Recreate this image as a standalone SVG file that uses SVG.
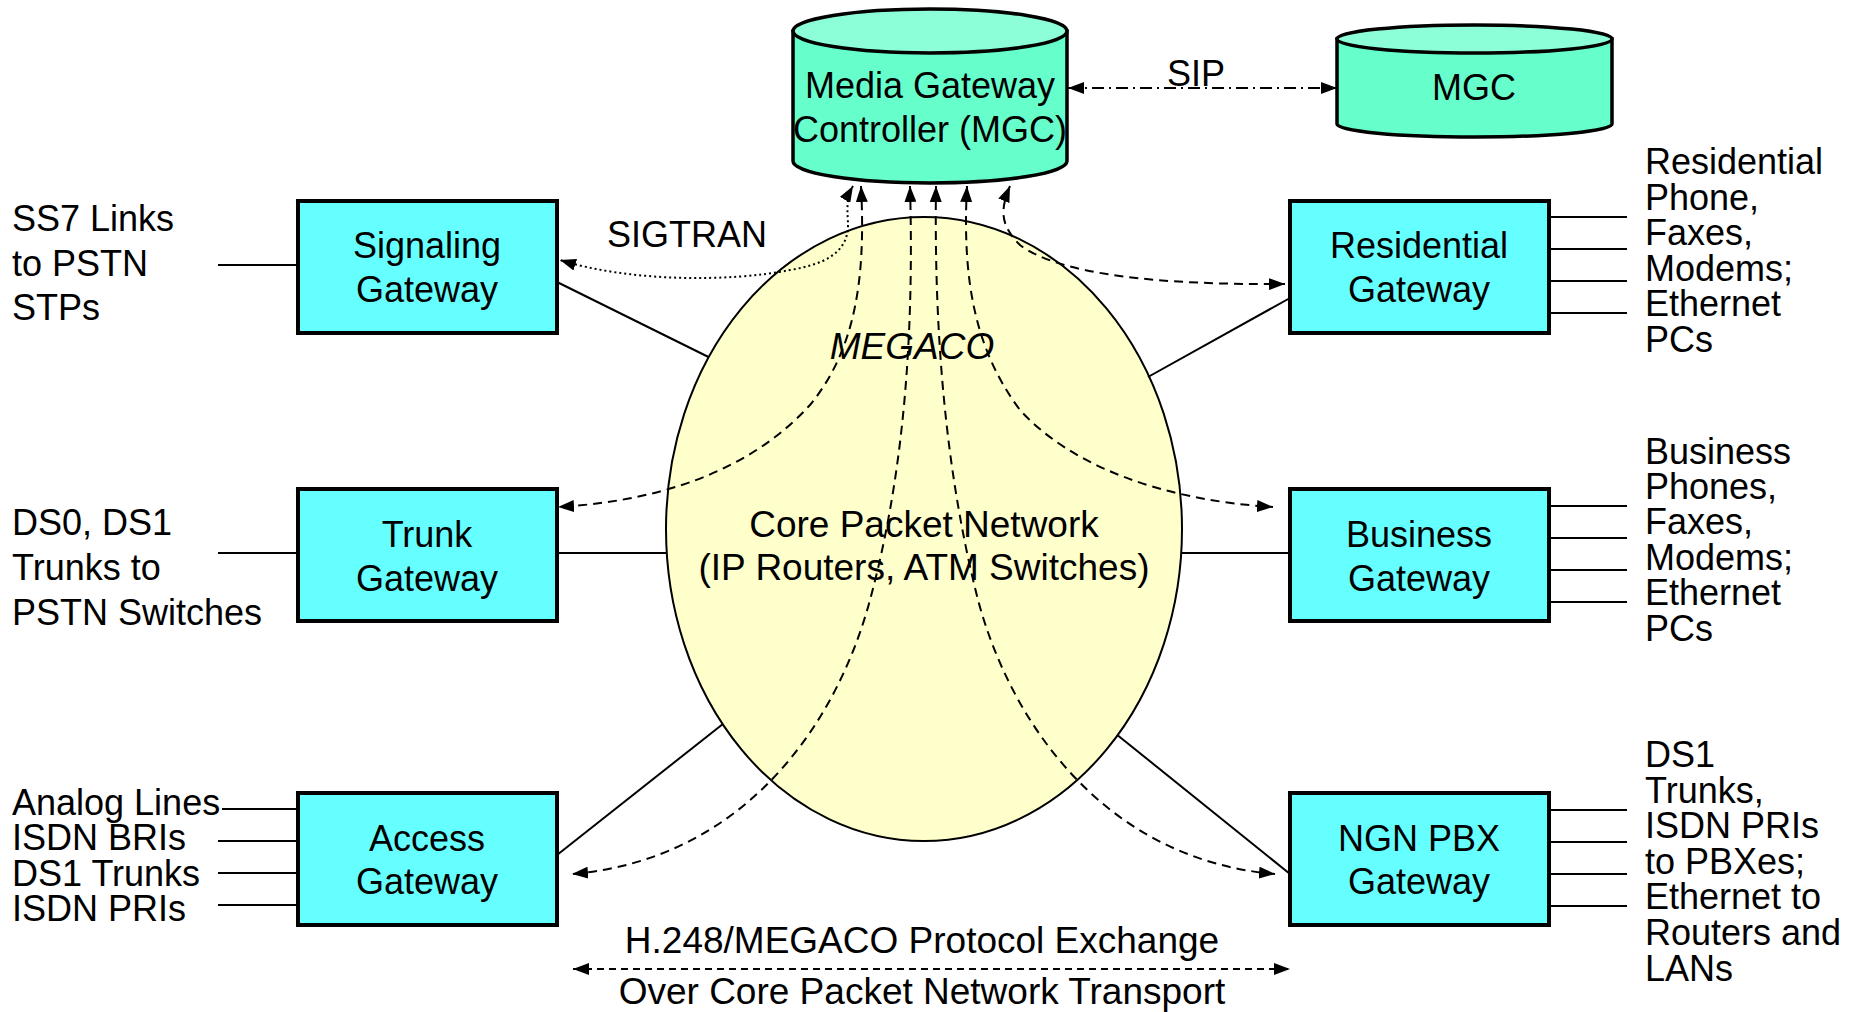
<svg xmlns="http://www.w3.org/2000/svg" width="1857" height="1012" viewBox="0 0 1857 1012">
<defs>
<style>
text{font-family:"Liberation Sans",Arial,sans-serif;font-size:36px;fill:#000}
.c{text-anchor:middle}
.box{fill:#66FFFF;stroke:#000;stroke-width:4}
.cyl{fill:#66FFCC;stroke:#000;stroke-width:3.5}
.cyltop{fill:#8CFFD8;stroke:#000;stroke-width:3.5}
.ln{stroke:#000;stroke-width:2;fill:none}
.dash{stroke:#000;stroke-width:2;fill:none;stroke-dasharray:9 6;marker-start:url(#ah);marker-end:url(#ah)}
.dot{stroke:#000;stroke-width:2;fill:none;stroke-dasharray:2 3;marker-start:url(#ah);marker-end:url(#ah)}
.sip{stroke:#000;stroke-width:2;fill:none;stroke-dasharray:12 5 2 5;marker-start:url(#ah);marker-end:url(#ah)}
.bot{stroke:#000;stroke-width:2;fill:none;stroke-dasharray:7 5;marker-start:url(#ah);marker-end:url(#ah)}
</style>
<marker id="ah" viewBox="0 0 16 12" refX="16" refY="6" markerWidth="16" markerHeight="12" markerUnits="userSpaceOnUse" orient="auto-start-reverse">
<path d="M0,0 L16,6 L0,12 z" fill="#000"/>
</marker>
</defs>
<rect width="1857" height="1012" fill="#fff"/>

<g id="core-network">
<ellipse cx="924" cy="529" rx="258" ry="312" fill="#FFFFCC" stroke="#000" stroke-width="2"/>
<text x="912" y="359" class="c" font-style="italic" style="font-size:37px">MEGACO</text>
<text x="924" y="537" class="c" style="font-size:37px">Core Packet Network</text>
<text x="924" y="580" class="c" style="font-size:37px">(IP Routers, ATM Switches)</text>
</g>

<g id="connectors">
<line class="ln" x1="218" y1="265" x2="298" y2="265"/>
<line class="ln" x1="557" y1="282" x2="708.5" y2="357"/>
<line class="ln" x1="218" y1="553" x2="298" y2="553"/>
<line class="ln" x1="557" y1="553" x2="667" y2="553"/>
<line class="ln" x1="222" y1="809" x2="298" y2="809"/>
<line class="ln" x1="218" y1="841" x2="298" y2="841"/>
<line class="ln" x1="218" y1="873" x2="298" y2="873"/>
<line class="ln" x1="218" y1="905" x2="298" y2="905"/>
<line class="ln" x1="557" y1="855" x2="722.6" y2="724.2"/>
<line class="ln" x1="1290" y1="298" x2="1148" y2="377"/>
<line class="ln" x1="1181" y1="553" x2="1290" y2="553"/>
<line class="ln" x1="1290" y1="874" x2="1117.6" y2="735.2"/>
<line class="ln" x1="1549" y1="217" x2="1627" y2="217"/>
<line class="ln" x1="1549" y1="249" x2="1627" y2="249"/>
<line class="ln" x1="1549" y1="281" x2="1627" y2="281"/>
<line class="ln" x1="1549" y1="313" x2="1627" y2="313"/>
<line class="ln" x1="1549" y1="506" x2="1627" y2="506"/>
<line class="ln" x1="1549" y1="538" x2="1627" y2="538"/>
<line class="ln" x1="1549" y1="570" x2="1627" y2="570"/>
<line class="ln" x1="1549" y1="602" x2="1627" y2="602"/>
<line class="ln" x1="1549" y1="810" x2="1627" y2="810"/>
<line class="ln" x1="1549" y1="842" x2="1627" y2="842"/>
<line class="ln" x1="1549" y1="874" x2="1627" y2="874"/>
<line class="ln" x1="1549" y1="906" x2="1627" y2="906"/>
<path class="sip" d="M1068,88 L1337,88"/>
<path class="dot" d="M853,186 C845,200 848,215 848,225 C848,255 820,265 790,270 C730,282 630,282 560,260"/>
<path class="dash" d="M861,186 C866,280 855,350 810,405 C760,460 680,500 558,507"/>
<path class="dash" d="M910,186 C914,330 905,470 870,600 C835,730 740,860 572,874"/>
<path class="dash" d="M936,186 C934,330 945,470 978,600 C1013,730 1110,860 1275,874"/>
<path class="dash" d="M967,186 C962,280 975,350 1020,410 C1070,465 1160,500 1273,507"/>
<path class="dash" d="M1010,186 C1000,210 1000,225 1020,245 C1060,275 1160,285 1285,284"/>
<path class="bot" d="M573,969 L1290,969"/>
</g>

<g id="mgc-main">
<path class="cyl" d="M793,31 L793,161 A137,22 0 0 0 1067,161 L1067,31 Z"/>
<ellipse class="cyltop" cx="930" cy="31" rx="137" ry="22"/>
<text x="930" y="98" class="c">Media Gateway</text>
<text x="930" y="142" class="c">Controller (MGC)</text>
</g>

<g id="mgc-peer">
<path class="cyl" d="M1337,39 L1337,124 A137.5,13 0 0 0 1612,124 L1612,39 Z"/>
<ellipse class="cyltop" cx="1474.5" cy="39" rx="137.5" ry="14"/>
<text x="1474" y="100" class="c">MGC</text>
</g>

<g id="signaling-gateway">
<rect class="box" x="298" y="201" width="259" height="132"/>
<text x="427" y="258" class="c">Signaling</text>
<text x="427" y="302" class="c">Gateway</text>
</g>
<g id="trunk-gateway">
<rect class="box" x="298" y="489" width="259" height="132"/>
<text x="427" y="547" class="c">Trunk</text>
<text x="427" y="591" class="c">Gateway</text>
</g>
<g id="access-gateway">
<rect class="box" x="298" y="793" width="259" height="132"/>
<text x="427" y="851" class="c">Access</text>
<text x="427" y="894" class="c">Gateway</text>
</g>
<g id="residential-gateway">
<rect class="box" x="1290" y="201" width="259" height="132"/>
<text x="1419" y="258" class="c">Residential</text>
<text x="1419" y="302" class="c">Gateway</text>
</g>
<g id="business-gateway">
<rect class="box" x="1290" y="489" width="259" height="132"/>
<text x="1419" y="547" class="c">Business</text>
<text x="1419" y="591" class="c">Gateway</text>
</g>
<g id="ngn-pbx-gateway">
<rect class="box" x="1290" y="793" width="259" height="132"/>
<text x="1419" y="851" class="c">NGN PBX</text>
<text x="1419" y="894" class="c">Gateway</text>
</g>

<g id="labels">
<text x="1196" y="86" class="c">SIP</text>
<text x="607" y="247">SIGTRAN</text>
<text x="12"><tspan x="12" y="231">SS7 Links</tspan><tspan x="12" y="276">to PSTN</tspan><tspan x="12" y="320">STPs</tspan></text>
<text x="12"><tspan x="12" y="535">DS0, DS1</tspan><tspan x="12" y="580">Trunks to</tspan><tspan x="12" y="625">PSTN Switches</tspan></text>
<text x="12"><tspan x="12" y="815">Analog Lines</tspan><tspan x="12" y="850">ISDN BRIs</tspan><tspan x="12" y="886">DS1 Trunks</tspan><tspan x="12" y="921">ISDN PRIs</tspan></text>
<text x="1645"><tspan x="1645" y="174">Residential</tspan><tspan x="1645" y="210">Phone,</tspan><tspan x="1645" y="245">Faxes,</tspan><tspan x="1645" y="281">Modems;</tspan><tspan x="1645" y="316">Ethernet</tspan><tspan x="1645" y="352">PCs</tspan></text>
<text x="1645"><tspan x="1645" y="464">Business</tspan><tspan x="1645" y="499">Phones,</tspan><tspan x="1645" y="534">Faxes,</tspan><tspan x="1645" y="570">Modems;</tspan><tspan x="1645" y="605">Ethernet</tspan><tspan x="1645" y="641">PCs</tspan></text>
<text x="1645"><tspan x="1645" y="767">DS1</tspan><tspan x="1645" y="803">Trunks,</tspan><tspan x="1645" y="838">ISDN PRIs</tspan><tspan x="1645" y="874">to PBXes;</tspan><tspan x="1645" y="909">Ethernet to</tspan><tspan x="1645" y="945">Routers and</tspan><tspan x="1645" y="981">LANs</tspan></text>
<text x="922" y="953" class="c" style="font-size:37px">H.248/MEGACO Protocol Exchange</text>
<text x="922" y="1004" class="c" style="font-size:37px">Over Core Packet Network Transport</text>
</g>
</svg>
